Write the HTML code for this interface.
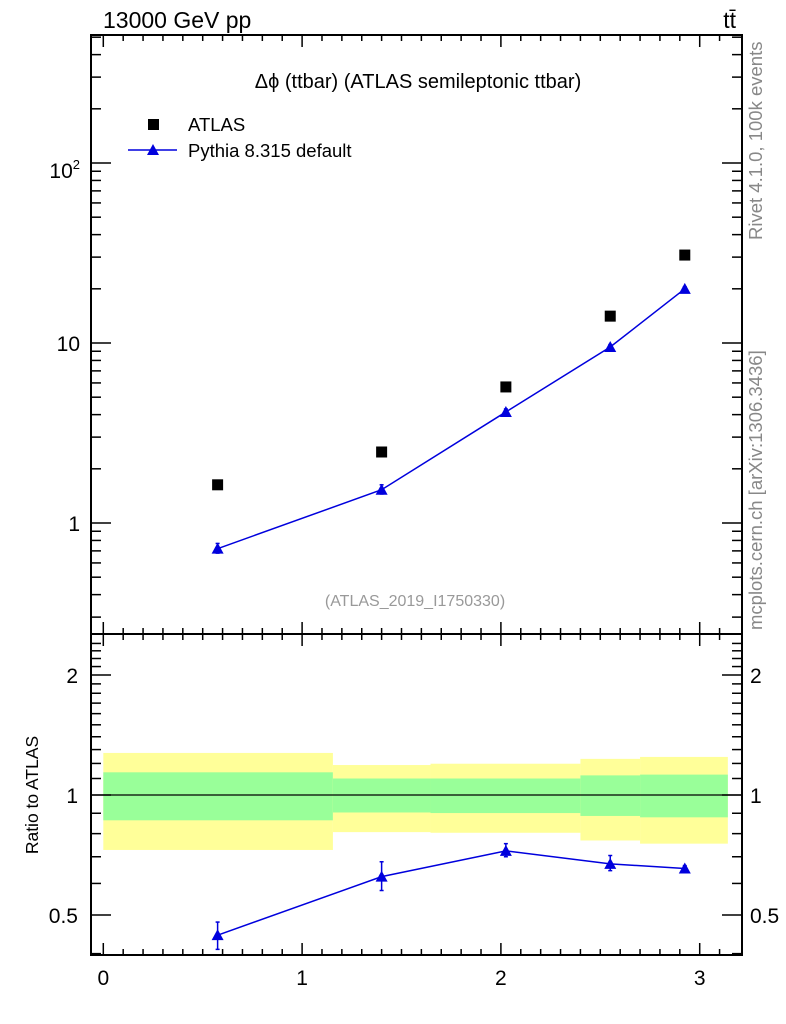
<!DOCTYPE html>
<html><head><meta charset="utf-8"><style>
body{margin:0;background:#fff;width:786px;height:1024px;overflow:hidden}
svg{display:block;font-family:"Liberation Sans",sans-serif}
</style></head><body>
<svg id="c" width="786" height="1024"></svg>
<script>
const xs=[0.575,1.4,2.025,2.55,2.925];
const atlasVals=[1.63,2.48,5.7,14.1,30.8];
const pythiaVals=[0.72,1.53,4.14,9.5,20.0];
const pythiaLo=[0.68,1.45,4.0,9.2,19.5];
const pythiaHi=[0.77,1.63,4.3,9.8,20.5];
const ratioVals=[0.445,0.624,0.724,0.672,0.654];
const ratioLo=[0.41,0.576,0.70,0.646,0.645];
const ratioHi=[0.48,0.68,0.755,0.705,0.665];
const binEdges=[0,1.155,1.646,2.40,2.70,3.1416];
const yellowHi=[1.275,1.189,1.198,1.232,1.246];
const yellowLo=[0.728,0.807,0.804,0.769,0.755];
const greenHi=[1.14,1.10,1.10,1.12,1.125];
const greenLo=[0.864,0.904,0.901,0.886,0.879];
const xTicks=[0,1,2,3];
const L=91,R=742,T=35,M=634,B=955;
const X=v=>103.3+v*198.8;
const Y=v=>523-Math.log10(v)*180;
const YR=v=>795-Math.log2(v)*120;
const svg=document.getElementById('c');
const NS='http://www.w3.org/2000/svg';
function mk(t,a,p){const e=document.createElementNS(NS,t);for(const k in a)e.setAttribute(k,a[k]);(p||svg).appendChild(e);return e;}
function txt(x,y,s,sz,anc,fill,name){const e=mk('text',{x:x,y:y,'font-size':sz,'text-anchor':anc||'start',fill:fill||'#000'});e.textContent=s;


return e;}
for(let i=0;i<5;i++){
 const a=mk('rect',{x:X(binEdges[i]),y:YR(yellowHi[i]),width:X(binEdges[i+1])-X(binEdges[i]),height:YR(yellowLo[i])-YR(yellowHi[i]),fill:'#ffff99'});
 
 
 const g=mk('rect',{x:X(binEdges[i]),y:YR(greenHi[i]),width:X(binEdges[i+1])-X(binEdges[i]),height:YR(greenLo[i])-YR(greenHi[i]),fill:'#99ff99'});
 
 
}
mk('line',{x1:L,x2:R,y1:YR(1),y2:YR(1),stroke:'#000','stroke-width':1.3});
for(const [y1,y2] of [[T,M],[M,B]]){const f=mk('rect',{x:L,y:y1,width:R-L,height:y2-y1,fill:'none',stroke:'#000','stroke-width':2});

}
for(const [y1,y2] of [[T,M],[M,B]]){
 for(let v=0;v<=3.15;v+=0.1){const maj=Math.abs(v-Math.round(v))<1e-6;const l=maj?12:6;const x=X(v);
  mk('line',{x1:x,x2:x,y1:y2,y2:y2-l,stroke:'#000','stroke-width':1.5});
  mk('line',{x1:x,x2:x,y1:y1,y2:y1+l,stroke:'#000','stroke-width':1.5});}
}
xTicks.forEach(v=>txt(X(v),985,String(v),21,'middle','#000','x-tick-label'));
for(let d=-1;d<=2;d++)for(let m=1;m<=9;m++){const v=m*Math.pow(10,d);const y=Y(v);if(y<T||y>M)continue;const l=m==1?20:10;
 mk('line',{x1:L,x2:L+l,y1:y,y2:y,stroke:'#000','stroke-width':1.5});
 mk('line',{x1:R,x2:R-l,y1:y,y2:y,stroke:'#000','stroke-width':1.5});}
const t2=txt(80,178,'10',21,'end','#000','y-tick-label');const sp=mk('tspan',{dy:-9,'font-size':13},t2);sp.textContent='2';
txt(80,351,'10',21,'end','#000','y-tick-label');
txt(80,531,'1',21,'end','#000','y-tick-label');
for(let v=0.4;v<=2.5;v+=0.1){const y=YR(v);if(y<M||y>B)continue;const maj=[0.5,1,2].some(q=>Math.abs(q-v)<1e-6);const l=maj?20:10;
 mk('line',{x1:L,x2:L+l,y1:y,y2:y,stroke:'#000','stroke-width':1.5});
 mk('line',{x1:R,x2:R-l,y1:y,y2:y,stroke:'#000','stroke-width':1.5});}
[[2,'2'],[1,'1'],[0.5,'0.5']].forEach(([v,s])=>{txt(78,YR(v)+8,s,21,'end','#000','ratio-tick-label');txt(750,YR(v)+8,s,21,'start','#000','ratio-tick-label-right');});
const pts=xs.map((x,i)=>X(x)+','+Y(pythiaVals[i])).join(' ');
const pl=mk('polyline',{points:pts,fill:'none',stroke:'#0000dd','stroke-width':1.5});


function tri(x,y,name){const p=mk('polygon',{points:`${x},${y-6} ${x-6},${y+5} ${x+6},${y+5}`,fill:'#0000dd'});

}
function err(x,y1,y2){mk('line',{x1:x,x2:x,y1:y1,y2:y2,stroke:'#0000dd','stroke-width':1.5});mk('line',{x1:x-2,x2:x+2,y1:y1,y2:y1,stroke:'#0000dd','stroke-width':1.5});mk('line',{x1:x-2,x2:x+2,y1:y2,y2:y2,stroke:'#0000dd','stroke-width':1.5});}
xs.forEach((x,i)=>{err(X(x),Y(pythiaHi[i]),Y(pythiaLo[i]));tri(X(x),Y(pythiaVals[i]),'pythia-point');
 const r=mk('rect',{x:X(x)-5.5,y:Y(atlasVals[i])-5.5,width:11,height:11,fill:'#000'});
 
 });
const rl=mk('polyline',{points:xs.map((x,i)=>X(x)+','+YR(ratioVals[i])).join(' '),fill:'none',stroke:'#0000dd','stroke-width':1.5});


xs.forEach((x,i)=>{err(X(x),YR(ratioHi[i]),YR(ratioLo[i]));tri(X(x),YR(ratioVals[i]),'ratio-point');});
const lr=mk('rect',{x:148,y:119,width:11,height:11,fill:'#000'});


txt(188,131,'ATLAS',18.5,'start','#000','legend-atlas');
mk('line',{x1:128,x2:177,y1:150,y2:150,stroke:'#0000dd','stroke-width':1.5});
tri(153,150,'legend-pythia-marker');
txt(188,157,'Pythia 8.315 default',18.5,'start','#000','legend-pythia');
txt(103,28,'13000 GeV pp',23,'start','#000','energy-label');
txt(736,28,'tt̄',23,'end','#000','process-label');
txt(418,88,'Δϕ (ttbar) (ATLAS semileptonic ttbar)',20,'middle','#000','plot-title');
txt(415,606,'(ATLAS_2019_I1750330)',16,'middle','#999','analysis-id');
const yl=txt(0,0,'Ratio to ATLAS',17.5,'middle','#000','y-axis-title');yl.setAttribute('transform','translate(38,795) rotate(-90)');
const r1=txt(0,0,'Rivet 4.1.0,  100k events',18.5,'start','#888','rivet-label');r1.setAttribute('transform','translate(762,240) rotate(-90)');r1.setAttribute('xml:space','preserve');
const r2=txt(0,0,'mcplots.cern.ch [arXiv:1306.3436]',18.5,'start','#888','mcplots-label');r2.setAttribute('transform','translate(762,630) rotate(-90)');
</script>
</body></html>
